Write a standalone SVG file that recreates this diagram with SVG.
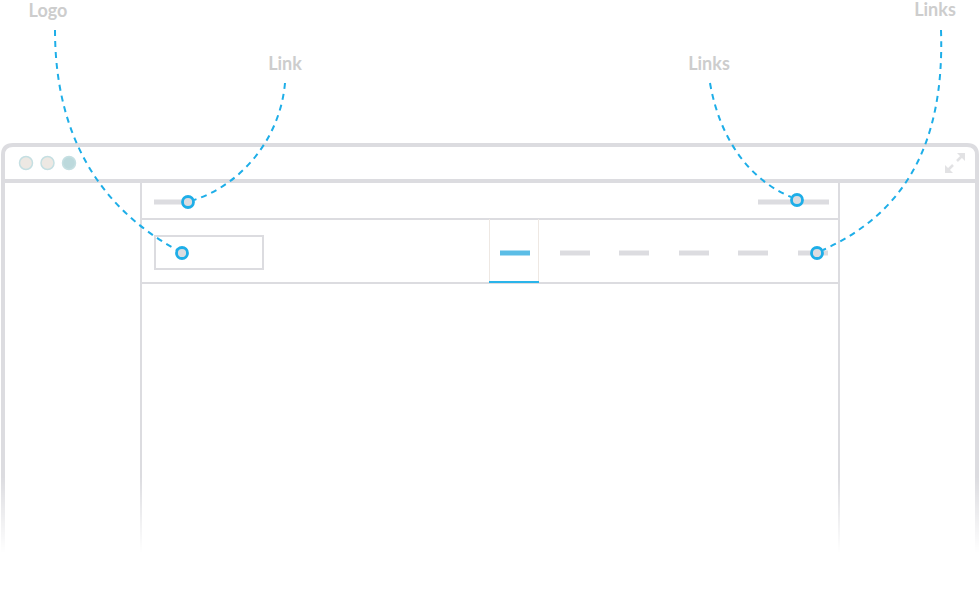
<svg xmlns="http://www.w3.org/2000/svg" width="980" height="611" viewBox="0 0 980 611">
<style>
.frame{fill:none;stroke:#dcdce0;stroke-width:4}
.thin{fill:none;stroke:#dcdce0;stroke-width:2}
.bar{stroke:#dcdce0;stroke-width:5}
.dot{fill:#dcdce0;stroke:#1eaee8;stroke-width:2.8}
.conn{fill:none;stroke:#1eaee8;stroke-width:2;stroke-dasharray:6 5}
.lbl{font-family:Lato,"Liberation Sans",sans-serif;font-size:18px;font-weight:bold;fill:#cdcdcd;text-anchor:middle}
.tl{fill:#ede8e3;stroke:#c5dfe2;stroke-width:1.5}
</style>
<defs>
<linearGradient id="fade" x1="0" y1="0" x2="0" y2="611" gradientUnits="userSpaceOnUse">
<stop offset="0" stop-color="#fff"/>
<stop offset="0.78" stop-color="#fff"/>
<stop offset="0.905" stop-color="#000"/>
<stop offset="1" stop-color="#000"/>
</linearGradient>
<mask id="m" maskUnits="userSpaceOnUse" x="0" y="0" width="980" height="611">
<rect x="0" y="0" width="980" height="611" fill="url(#fade)"/>
</mask>
</defs>
<g id="browser" mask="url(#m)">
<path class="frame" d="M3,611 V155 Q3,145 13,145 H967 Q977,145 977,155 V611"/>
<line class="frame" x1="3" y1="181" x2="977" y2="181"/>
<line class="thin" x1="141" y1="182" x2="141" y2="611"/>
<line class="thin" x1="839" y1="182" x2="839" y2="611"/>
</g>
<g id="traffic">
<circle class="tl" cx="26" cy="163" r="6.5"/>
<circle class="tl" cx="47.5" cy="163" r="6.5"/>
<circle class="tl" cx="69" cy="163" r="6.5" style="fill:#bcd9dc"/>
</g>
<g id="expand" stroke="#e2e2e4" stroke-width="2.5" fill="#e2e2e4">
<line x1="948" y1="170" x2="953" y2="165"/>
<line x1="957" y1="161" x2="962" y2="156"/>
<polygon points="945,173 945,165 953,173" stroke="none"/>
<polygon points="965,153 965,161 957,153" stroke="none"/>
</g>
<g id="topbar">
<line class="thin" x1="141" y1="219" x2="839" y2="219"/>
<line class="bar" x1="154" y1="202" x2="188" y2="202"/>
<line class="bar" x1="758" y1="202" x2="829" y2="202"/>
</g>
<g id="navbar">
<line class="thin" x1="141" y1="283" x2="839" y2="283"/>
<rect x="155" y="236" width="108" height="33" fill="none" stroke="#dcdce0" stroke-width="2"/>
<line x1="489.5" y1="219" x2="489.5" y2="281" stroke="#eee8e3" stroke-width="1"/>
<line x1="538.5" y1="219" x2="538.5" y2="281" stroke="#eee8e3" stroke-width="1"/>
<line x1="489" y1="282" x2="539" y2="282" stroke="#2ab4ea" stroke-width="2"/>
<line x1="500" y1="253" x2="530" y2="253" stroke="#5bbde6" stroke-width="5"/>
<line class="bar" x1="560" y1="253" x2="590" y2="253"/>
<line class="bar" x1="619" y1="253" x2="649" y2="253"/>
<line class="bar" x1="679" y1="253" x2="709" y2="253"/>
<line class="bar" x1="738" y1="253" x2="768" y2="253"/>
<line class="bar" x1="798" y1="253" x2="828" y2="253"/>
</g>
<g id="connectors">
<path class="conn" d="M55,30 C55,130 95,205 177,250"/>
<path class="conn" d="M285,83 C280,140 240,185 194,200"/>
<path class="conn" d="M710,83 C720,140 750,180 791,197"/>
<path class="conn" d="M941,30 C945,150 900,215 823,250"/>
</g>
<g id="logo-label"><text class="lbl" x="48" y="17">Logo</text><circle class="dot" cx="182" cy="253" r="5.5"/></g>
<g id="link-label"><text class="lbl" x="285" y="70">Link</text><circle class="dot" cx="188" cy="202" r="5.5"/></g>
<g id="links-label"><text class="lbl" x="709" y="70">Links</text><circle class="dot" cx="797" cy="200" r="5.5"/></g>
<g id="links-right-label"><text class="lbl" x="935" y="16">Links</text><circle class="dot" cx="817" cy="253" r="5.5"/></g>
</svg>
